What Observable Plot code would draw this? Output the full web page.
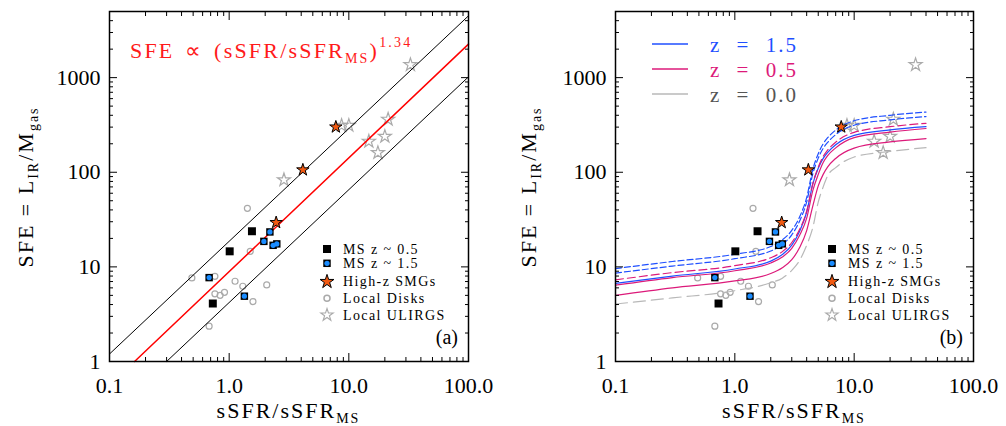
<!DOCTYPE html>
<html><head><meta charset="utf-8">
<script src="https://cdn.jsdelivr.net/npm/d3@7"></script>
<script src="https://cdn.jsdelivr.net/npm/@observablehq/plot@0.6"></script>
<style>
html,body{margin:0;padding:0;background:#fff;}
#wrap{display:flex;width:1006px;height:426px;overflow:hidden;}
#wrap > div{width:503px;height:426px;}
svg{display:block}
</style></head><body><div id="wrap"><div id="pa"></div><div id="pb"></div></div>
<script>
// ---------- ticks ----------
const xMajor = [0.1, 1, 10, 100];
const xTickLabels = ["0.1", "1.0", "10.0", "100.0"];
const xMinor = [0.2,0.3,0.4,0.5,0.6,0.7,0.8,0.9, 2,3,4,5,6,7,8,9, 20,30,40,50,60,70,80,90];
const yMajor = [1, 10, 100, 1000];
const yTickLabels = ["1", "10", "100", "1000"];
const yMinor = [2,3,4,5,6,7,8,9, 20,30,40,50,60,70,80,90, 200,300,400,500,600,700,800,900, 2000,3000,4000];

// ---------- data ----------
const msLowX = [1.55, 1.01, 0.73];
const msLowY = [23.8, 14.6, 4.1];
const msHighX = [0.68, 1.34, 2.19, 1.95, 2.33, 2.50];
const msHighY = [7.7, 4.9, 23.4, 18.6, 16.9, 17.5];
const smgX = [2.47, 4.13, 7.79];
const smgY = [29.4, 106, 301];
const diskX = [1.42, 0.488, 0.76, 1.50, 1.12, 1.30, 2.06, 0.76, 0.84, 0.914, 1.58, 0.68];
const diskY = [41.6, 7.65, 7.95, 14.6, 7.05, 6.24, 6.45, 5.19, 5.01, 5.39, 4.30, 2.36];
const ulirgX = [2.87, 8.7, 10.0, 14.7, 17.5, 20.0, 21.3, 32.7];
const ulirgY = [83, 312, 312, 212, 161, 239, 362, 1368];

// panel (a) straight relations
const upperX = [0.1, 100], upperY = [1.2, 4500];
const fitX = [0.162, 100], fitY = [1, 2260];
const lowerX = [0.30, 100], lowerY = [1, 1020];

// panel (b) model curves
const curveX = [0.1, 0.3, 1, 2, 2.5, 3, 3.5, 4, 4.5, 5, 5.5, 6, 7, 10, 20, 40];
const blueDash1 = [9.6, 11.4, 13.6, 16.4, 19.3, 24.3, 34, 54, 107, 157, 200, 232, 279, 350, 400, 433];
const blueDash2 = [8.6, 10.2, 12.2, 14.7, 17.3, 21.8, 30.7, 48.6, 96, 141, 179, 207, 250, 314, 358, 388];
const pinkDash  = [7.3, 8.7, 10.3, 12.5, 14.5, 18.1, 25.1, 38.7, 76, 113, 147, 172, 208, 264, 303, 329];
const blueSolid = [6.7, 8.0, 9.5, 11.5, 13.5, 17, 24, 38, 75, 110, 140, 162, 195, 245, 280, 303];
const pinkSolid1 = [6.4, 7.7, 9.1, 11.0, 12.7, 15.7, 21.7, 32.8, 64, 95, 127, 150, 181, 232, 266, 290];
const pinkSolid2 = [5.0, 6.0, 7.1, 8.5, 9.8, 11.9, 16.1, 24.2, 43.8, 71.7, 95, 114, 140, 180, 209, 227];
const greyDash  = [4.05, 4.7, 5.6, 6.8, 7.6, 9.2, 11.8, 16.9, 26, 48.4, 70, 92, 112, 145, 166, 182];

const legendLabels = ["MS z ~ 0.5", "MS z ~ 1.5", "High-z SMGs", "Local Disks", "Local ULIRGS"];
const zLabels = ["z = 1.5", "z = 0.5", "z = 0.0"];

// ---------- styles ----------
const FONT = "'Liberation Serif', 'Times New Roman', serif";
const BLUE = "#1f4fff", PINK = "#dc1a7a", GREYLINE = "#b8b8b8", GREYTXT = "#555555";
const DOTBLUE = "#1a8cff", ORANGE = "#f25a12", GREYSYM = "#aaaaaa", RED = "#ff1a1a";

const pts = (xs, ys) => xs.map((x, i) => ({x, y: ys[i]}));
const msLow = pts(msLowX, msLowY), msHigh = pts(msHighX, msHighY), smg = pts(smgX, smgY);
const disks = pts(diskX, diskY), ulirgs = pts(ulirgX, ulirgY);
const curves = curveX.map((x, i) => ({x, bd1: blueDash1[i], bd2: blueDash2[i], pd: pinkDash[i],
  bs: blueSolid[i], ps1: pinkSolid1[i], ps2: pinkSolid2[i], gd: greyDash[i]}));

function pointMarks() {
  return [
    Plot.dot(disks, {x: "x", y: "y", r: 3, stroke: GREYSYM, strokeWidth: 1.2, fill: "none"}),
    Plot.dot(ulirgs, {x: "x", y: "y", symbol: "star", r: 4.1, stroke: GREYSYM, strokeWidth: 1.2, fill: "none"}),
  ];
}
function pointMarksTop() {
  return [
    Plot.dot(msLow, {x: "x", y: "y", symbol: "square", r: 4.5, fill: "#000"}),
    Plot.dot(msHigh, {x: "x", y: "y", symbol: "square", r: 4.2, fill: "#000"}),
    Plot.dot(msHigh, {x: "x", y: "y", r: 2.6, fill: DOTBLUE}),
    Plot.dot(smg, {x: "x", y: "y", symbol: "star", r: 3.9, fill: ORANGE, stroke: "#000", strokeWidth: 1}),
  ];
}
function axisMarks() {
  const blank = () => "";
  const lab = {fontSize: 22, label: null};
  return [
    Plot.axisX({ticks: xMinor, anchor: "bottom", tickSize: -4, tickFormat: blank, label: null}),
    Plot.axisX({ticks: xMinor, anchor: "top", tickSize: -4, tickFormat: blank, label: null}),
    Plot.axisX({ticks: xMajor, anchor: "bottom", tickSize: -8, tickFormat: blank, label: null}),
    Plot.axisX({ticks: xMajor, anchor: "top", tickSize: -8, tickFormat: blank, label: null}),
    Plot.axisY({ticks: yMinor, anchor: "left", tickSize: -4, tickFormat: blank, label: null}),
    Plot.axisY({ticks: yMinor, anchor: "right", tickSize: -4, tickFormat: blank, label: null}),
    Plot.axisY({ticks: yMajor, anchor: "left", tickSize: -8, tickFormat: blank, label: null}),
    Plot.axisY({ticks: yMajor, anchor: "right", tickSize: -8, tickFormat: blank, label: null}),
    Plot.axisX({ticks: xMajor, anchor: "bottom", tickSize: 0, tickPadding: 16, ...lab,
      tickFormat: d => xTickLabels[xMajor.indexOf(d)]}),
    Plot.axisY({ticks: yMajor, anchor: "left", tickSize: 0, tickPadding: 9, ...lab,
      tickFormat: d => yTickLabels[yMajor.indexOf(d)]}),
    Plot.frame({stroke: "#000", strokeWidth: 1.5})
  ];
}

function makePanel(marginLeft, marginRight, marks) {
  return Plot.plot({
    width: 503, height: 426,
    marginLeft, marginRight, marginTop: 11, marginBottom: 65,
    x: {type: "log", domain: [0.1, 100]},
    y: {type: "log", domain: [1, 5000]},
    style: {fontFamily: FONT, background: "#fff", color: "#000"},
    marks: [...marks, ...axisMarks()]
  });
}

function addText(sel, x, y, parts, size, color, anchor, extra) {
  const t = sel.append("text").attr("x", x).attr("y", y)
    .attr("font-family", FONT).attr("font-size", size).attr("fill", color)
    .attr("text-anchor", anchor || "start");
  if (extra) extra(t);
  for (const p of parts) {
    const ts = t.append("tspan").text(p.t);
    if (p.size) ts.attr("font-size", p.size);
    if (p.dy) ts.attr("dy", p.dy);
  }
  return t;
}

function addTitles(svg, cx) {
  const s = d3.select(svg);
  addText(s, cx, 418, [{t: "sSFR/sSFR"}, {t: "MS", size: 14, dy: 5}], 22, "#000", "middle",
    t => t.attr("letter-spacing", "2px"));
  addText(s, 0, 0, [{t: "SFE = L"}, {t: "IR", size: 14, dy: 5}, {t: "/M", dy: -5}, {t: "gas", size: 14, dy: 5}],
    22, "#000", "middle", t => t.attr("letter-spacing", "2px").attr("transform", "translate(33,187) rotate(-90)"));
}

function addLegend(svg, frameRight, tag) {
  const s = d3.select(svg);
  const g = s.append("g");
  const sx = frameRight - 141, tx = frameRight - 125;
  const rows = [249, 263.3, 281.7, 298.3, 315];
  const sym = (type, size) => d3.symbol(type, size)();
  g.append("path").attr("d", sym(d3.symbolSquare, 64)).attr("transform", `translate(${sx},${rows[0]})`).attr("fill", "#000");
  g.append("path").attr("d", sym(d3.symbolSquare, 56)).attr("transform", `translate(${sx},${rows[1]})`).attr("fill", "#000");
  g.append("circle").attr("cx", sx).attr("cy", rows[1]).attr("r", 2.6).attr("fill", DOTBLUE);
  g.append("path").attr("d", sym(d3.symbolStar, 60)).attr("transform", `translate(${sx},${rows[2]})`)
    .attr("fill", ORANGE).attr("stroke", "#000").attr("stroke-width", 1);
  g.append("circle").attr("cx", sx).attr("cy", rows[3]).attr("r", 3).attr("fill", "none")
    .attr("stroke", GREYSYM).attr("stroke-width", 1.5);
  g.append("path").attr("d", sym(d3.symbolStar, 48)).attr("transform", `translate(${sx},${rows[4]})`)
    .attr("fill", "none").attr("stroke", GREYSYM).attr("stroke-width", 1.1);
  legendLabels.forEach((l, i) => {
    addText(g, tx, rows[i] + 4.5, [{t: l}], 14, "#000", "start", t => t.attr("letter-spacing", "1.4px"));
  });
  addText(s, frameRight - 10, 344, [{t: tag}], 20, "#000", "end");
}

// ---------- panel (a) ----------
const svgA = makePanel(109, 35, [
  ...pointMarks(),
  Plot.line(pts(upperX, upperY), {x: "x", y: "y", stroke: "#000", strokeWidth: 1}),
  Plot.line(pts(lowerX, lowerY), {x: "x", y: "y", stroke: "#000", strokeWidth: 1}),
  Plot.line(pts(fitX, fitY), {x: "x", y: "y", stroke: "#ff0000", strokeWidth: 1.5}),
  ...pointMarksTop()
]);
addTitles(svgA, 288.5);
addLegend(svgA, 468, "(a)");
addText(d3.select(svgA), 130, 58,
  [{t: "SFE \u221D (sSFR/sSFR"}, {t: "MS", size: 14, dy: 5}, {t: ")", dy: -5}, {t: "1.34", size: 14, dy: -11}],
  22, RED, "start", t => t.attr("letter-spacing", "2.2px").attr("word-spacing", "3px"));
document.getElementById("pa").appendChild(svgA);

// ---------- panel (b) ----------
const cv = (key, stroke, dash) => Plot.line(curves, {x: "x", y: key, curve: "monotone-x", stroke,
  strokeWidth: 1.2, strokeDasharray: dash});
const svgB = makePanel(112, 33, [
  ...pointMarks(),
  cv("gd", GREYLINE, "12,6"),
  cv("ps2", PINK, null),
  cv("ps1", PINK, null),
  cv("bs", BLUE, null),
  cv("pd", PINK, "8,4"),
  cv("bd2", BLUE, "6,3"),
  cv("bd1", BLUE, "6,3"),
  ...pointMarksTop()
]);
addTitles(svgB, 291);
addLegend(svgB, 470, "(b)");
{
  const s = d3.select(svgB);
  const rows = [44, 69, 94];
  const cols = [BLUE, PINK, GREYLINE];
  const tcols = [BLUE, PINK, GREYTXT];
  rows.forEach((y, i) => {
    s.append("line").attr("x1", 149).attr("x2", 185).attr("y1", y).attr("y2", y)
      .attr("stroke", cols[i]).attr("stroke-width", 1.3);
    addText(s, 207, y + 7.5, [{t: zLabels[i]}], 21, tcols[i], "start",
      t => t.attr("letter-spacing", "2px").attr("word-spacing", "8px"));
  });
}
document.getElementById("pb").appendChild(svgB);
</script></body></html>
